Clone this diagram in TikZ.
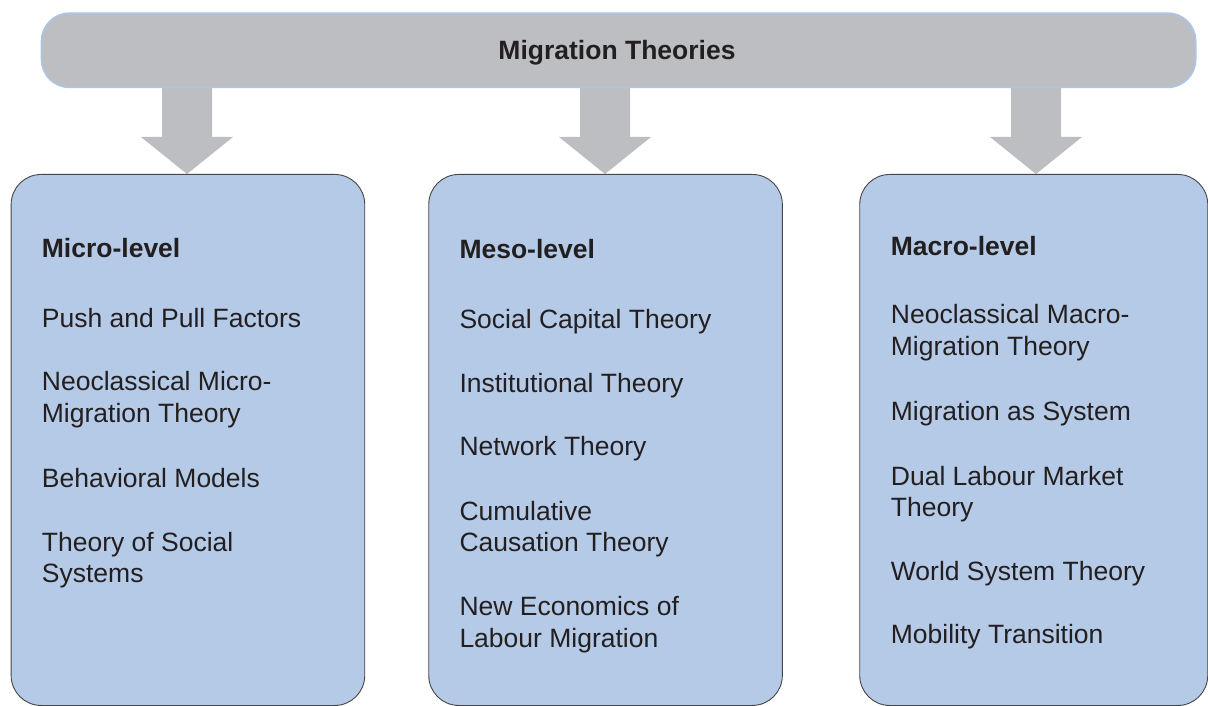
\documentclass[tikz,border=0pt]{standalone}
\usepackage{fontspec}
\setmainfont{Liberation Sans}
\usetikzlibrary{calc}
\definecolor{bargray}{RGB}{189,190,194}
\definecolor{barline}{RGB}{172,198,232}
\definecolor{boxblue}{RGB}{181,202,230}
\definecolor{boxline}{RGB}{70,70,72}
\definecolor{txt}{RGB}{35,31,32}
\tikzset{
  bar/.style={draw=barline, line width=1.5pt, fill=bargray, rounded corners=28pt, inner sep=0pt, anchor=north west},
  levelbox/.style={draw=boxline, line width=0.9pt, fill=boxblue, rounded corners=30pt, inner sep=0pt, anchor=north west, minimum width=353.6pt, minimum height=531pt},
  blockarrow/.style={fill=bargray, draw=none},
  item/.style={anchor=base west, inner sep=0pt, text=txt, font=\fontsize{26.5}{31.7}\selectfont},
  head/.style={item, font=\fontsize{26.5}{31.7}\selectfont\bfseries},
}
\begin{document}
\begin{tikzpicture}[x=1pt, y=-1pt]
\useasboundingbox (0,0) rectangle (1208,706);
% arrow tips
\coordinate (t1) at (187,174);
\coordinate (t2) at (605,174);
\coordinate (t3) at (1036,174);
\foreach \t in {t1,t2,t3}{
  \fill[blockarrow] ($(\t)+(-25,-100)$) -- ($(\t)+(-25,-37)$) -- ($(\t)+(-46,-37)$) -- (\t)
     -- ($(\t)+(46,-37)$) -- ($(\t)+(25,-37)$) -- ($(\t)+(25,-100)$) -- cycle;
}
% top bar
\node[bar, minimum width=1154.3pt, minimum height=74.4pt] (top) at (40.7,12.3) {};
\node[head, anchor=base] (title) at (617,59.3) {Migration Theories};
% boxes
\node[levelbox] (micro) at (10.7,174) {};
\node[levelbox] (meso) at (428.3,174) {};
\node[levelbox, minimum width=348pt] (macro) at (859.3,174) {};
% micro column
\node[head] (mi0) at (41.7,257.3) {Micro-level};
\node[item] (mi1) at (41.7,327.3) {Push and Pull Factors};
\node[item] (mi2a) at (41.7,390.7) {Neoclassical Micro-};
\node[item] (mi2b) at (41.7,422.4) {Migration Theory};
\node[item] (mi3) at (41.7,487.7) {Behavioral Models};
\node[item] (mi4a) at (41.7,551) {Theory of Social};
\node[item] (mi4b) at (41.7,582.7) {Systems};
% meso column
\node[head] (me0) at (459.3,258.3) {Meso-level};
\node[item] (me1) at (459.3,328.3) {Social Capital Theory};
\node[item] (me2) at (459.3,392.3) {Institutional Theory};
\node[item] (me3) at (459.3,455.7) {Network Theory};
\node[item] (me4a) at (459.3,520) {Cumulative};
\node[item] (me4b) at (459.3,551.7) {Causation Theory};
\node[item] (me5a) at (459.3,615.7) {New Economics of};
\node[item] (me5b) at (459.3,647.3) {Labour Migration};
% macro column
\node[head] (ma0) at (890.7,255) {Macro-level};
\node[item] (ma1a) at (890.7,323.3) {Neoclassical Macro-};
\node[item] (ma1b) at (890.7,355.5) {Migration Theory};
\node[item] (ma2) at (890.7,420.7) {Migration as System};
\node[item] (ma3a) at (890.7,485) {Dual Labour Market};
\node[item] (ma3b) at (890.7,516.7) {Theory};
\node[item] (ma4) at (890.7,580) {World System Theory};
\node[item] (ma5) at (890.7,643.3) {Mobility Transition};
\end{tikzpicture}
\end{document}
